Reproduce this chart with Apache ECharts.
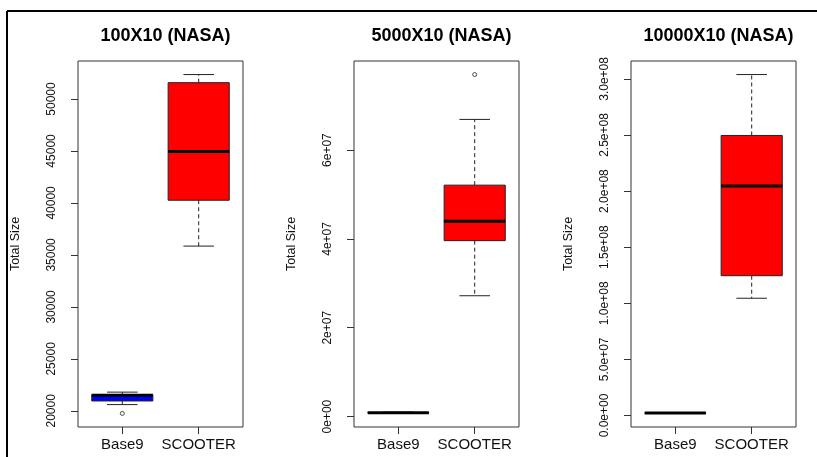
<!DOCTYPE html>
<html>
<head>
<meta charset="utf-8">
<script src="https://cdn.jsdelivr.net/npm/echarts@6/dist/echarts.min.js"></script>
<style>
  html, body { margin: 0; padding: 0; background: #fff; }
  #main { width: 817px; height: 457px; }
</style>
</head>
<body>
<div id="main"></div>
<script>
// categories and titles
var categories = ["Base9", "SCOOTER"];
var titles = ["100X10 (NASA)", "5000X10 (NASA)", "10000X10 (NASA)"];
var boxColors = ["#0000FF", "#FF0000"];

// box stats: [x, min, q1, median, q3, max]
var stats100 = [
  [0, 20600, 20950, 21500, 21550, 21800],
  [1, 35850, 40260, 44950, 51570, 52350]
];
var outliers100 = [[0, 19750]];
var ticks100 = [20000, 25000, 30000, 35000, 40000, 45000, 50000];
var labels100 = ["20000", "25000", "30000", "35000", "40000", "45000", "50000"];

var stats5000 = [
  [0, 0.7e6, 0.8e6, 0.85e6, 0.9e6, 1.0e6],
  [1, 27.2e6, 39.6e6, 44.0e6, 52.1e6, 66.9e6]
];
var outliers5000 = [[1, 77.0e6]];
var ticks5000 = [0, 2e7, 4e7, 6e7];
var labels5000 = ["0e+00", "2e+07", "4e+07", "6e+07"];

var stats10000 = [
  [0, 1.8e6, 2.0e6, 2.1e6, 2.2e6, 2.4e6],
  [1, 104.5e6, 124.6e6, 204.5e6, 249.6e6, 303.9e6]
];
var outliers10000 = [];
var ticks10000 = [0, 5e7, 1e8, 1.5e8, 2e8, 2.5e8, 3e8];
var labels10000 = ["0.0e+00", "5.0e+07", "1.0e+08", "1.5e+08", "2.0e+08", "2.5e+08", "3.0e+08"];

var panels = [
  { stats: stats100, outliers: outliers100, ticks: ticks100, labels: labels100, left: 78 },
  { stats: stats5000, outliers: outliers5000, ticks: ticks5000, labels: labels5000, left: 354 },
  { stats: stats10000, outliers: outliers10000, ticks: ticks10000, labels: labels10000, left: 631 }
];
var plotW = 165, plotTop = 61, plotH = 366;

// R style box: dashed whiskers, half width staples, thick median
function renderBox(params, api) {
  var x = api.value(0);
  var half = api.size([0.8, 0])[0] / 2;
  var cap = half / 2;
  var pMin = api.coord([x, api.value(1)]);
  var pQ1 = api.coord([x, api.value(2)]);
  var pMed = api.coord([x, api.value(3)]);
  var pQ3 = api.coord([x, api.value(4)]);
  var pMax = api.coord([x, api.value(5)]);
  var cx = pMed[0];
  var dash = { stroke: "#222", lineWidth: 1, lineDash: [4, 3] };
  var solid = { stroke: "#222", lineWidth: 1 };
  return {
    type: "group",
    children: [
      { type: "line", shape: { x1: cx, y1: pQ3[1], x2: cx, y2: pMax[1] }, style: dash },
      { type: "line", shape: { x1: cx, y1: pQ1[1], x2: cx, y2: pMin[1] }, style: dash },
      { type: "line", shape: { x1: cx - cap, y1: pMax[1], x2: cx + cap, y2: pMax[1] }, style: solid },
      { type: "line", shape: { x1: cx - cap, y1: pMin[1], x2: cx + cap, y2: pMin[1] }, style: solid },
      { type: "rect", shape: { x: cx - half, y: pQ3[1], width: half * 2, height: pQ1[1] - pQ3[1] },
        style: { fill: boxColors[x], stroke: "#222", lineWidth: 1 } },
      { type: "line", shape: { x1: cx - half, y1: pMed[1], x2: cx + half, y2: pMed[1] },
        style: { stroke: "#000", lineWidth: 3 } }
    ]
  };
}

var grid = [], xAxis = [], yAxis = [], series = [], title = [];
panels.forEach(function (p, i) {
  // y range like R: data range plus 4%
  var vals = [];
  p.stats.forEach(function (s) { vals = vals.concat(s.slice(1)); });
  p.outliers.forEach(function (o) { vals.push(o[1]); });
  var lo = Math.min.apply(null, vals), hi = Math.max.apply(null, vals);
  var pad = (hi - lo) * 0.04;

  grid.push({ left: p.left, top: plotTop, width: plotW, height: plotH,
    show: true, borderColor: "#333", borderWidth: 1, backgroundColor: "transparent" });
  title.push({ text: titles[i], left: p.left + plotW / 2, top: 22, textAlign: "center",
    textStyle: { fontFamily: "Liberation Sans, Arial", fontWeight: "bold", fontSize: 18, color: "#000" } });
  xAxis.push({
    gridIndex: i, type: "value", min: -0.58, max: 1.58,
    axisLine: { show: false, onZero: false }, splitLine: { show: false },
    axisTick: { show: true, length: 7, customValues: [0, 1], lineStyle: { color: "#333" } },
    axisLabel: { customValues: [0, 1], margin: 10, fontFamily: "Liberation Sans, Arial",
      fontSize: 15, color: "#111", formatter: function (v) { return categories[v]; } }
  });
  yAxis.push({
    gridIndex: i, type: "value", min: lo - pad, max: hi + pad,
    name: "Total Size", nameLocation: "middle", nameGap: 56,
    nameTextStyle: { fontFamily: "Liberation Sans, Arial", fontSize: 12.5, color: "#111" },
    axisLine: { show: false, onZero: false }, splitLine: { show: false },
    axisTick: { show: true, length: 7, customValues: p.ticks, lineStyle: { color: "#333" } },
    axisLabel: { customValues: p.ticks, rotate: 90, margin: 20,
      fontFamily: "Liberation Sans, Arial", fontSize: 12, color: "#111",
      formatter: function (v) { return p.labels[p.ticks.indexOf(v)]; } }
  });
  series.push({
    type: "custom", xAxisIndex: i, yAxisIndex: i, renderItem: renderBox,
    encode: { x: 0, y: [1, 2, 3, 4, 5] }, data: p.stats, silent: true
  });
  series.push({
    type: "scatter", xAxisIndex: i, yAxisIndex: i, data: p.outliers,
    symbol: "circle", symbolSize: 4, silent: true, z: 5,
    itemStyle: { color: "#fff", borderColor: "#222", borderWidth: 1 }
  });
});

var chart = echarts.init(document.getElementById("main"));
chart.setOption({
  animation: false,
  backgroundColor: "#fff",
  title: title,
  grid: grid,
  xAxis: xAxis,
  yAxis: yAxis,
  series: series,
  graphic: [
    // outer frame (top and left edges)
    { type: "line", shape: { x1: 7, y1: 11, x2: 817, y2: 11 }, style: { stroke: "#000", lineWidth: 2 } },
    { type: "line", shape: { x1: 7, y1: 11, x2: 7, y2: 457 }, style: { stroke: "#000", lineWidth: 2 } }
  ]
});
</script>
</body>
</html>
